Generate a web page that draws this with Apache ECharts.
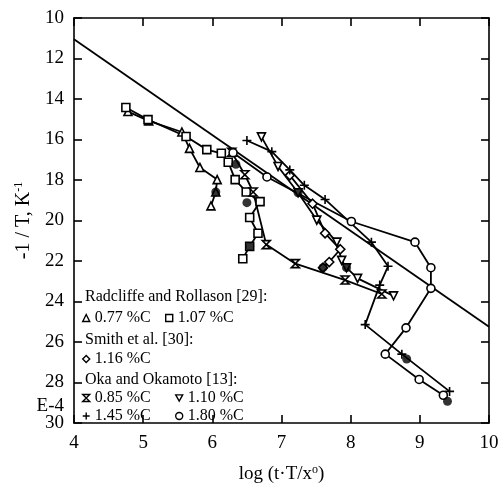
<!DOCTYPE html>
<html><head><meta charset="utf-8">
<script src="https://cdn.jsdelivr.net/npm/echarts@6/dist/echarts.min.js"></script>
<style>html,body{margin:0;padding:0;background:#fff}#c{width:503px;height:489px}</style>
</head><body><div id="c"></div>
<script>
// axis ranges / ticks
const xTicks = [4, 5, 6, 7, 8, 9, 10];
const yTicks = [10, 12, 14, 16, 18, 20, 22, 24, 26, 28, 30];

// reference straight line
const refLine = [[4, 11.05], [10, 25.25]];
// Radcliffe and Rollason [29]
const rr077 = [[4.78,14.62],[5.08,15.08],[5.56,15.63],[5.67,16.44],[5.82,17.38],[6.07,17.98],[6.05,18.59],[5.98,19.28]];
const rr107 = [[4.75,14.42],[5.07,15.02],[5.62,15.85],[5.92,16.5],[6.13,16.68],[6.23,17.12],[6.33,17.98],[6.49,18.59],[6.69,19.07],[6.54,19.85],[6.66,20.63],[6.54,21.28],[6.44,21.89]];
// Smith et al. [30]
const sm116 = [[7.12,17.77],[7.45,19.17],[7.63,20.63],[7.85,21.42],[7.69,22.05],[7.60,22.33]];
// Oka and Okamoto [13]
const ok085 = [[6.28,16.63],[6.47,17.74],[6.59,18.59],[6.78,21.19],[7.20,22.13],[7.92,22.94],[8.45,23.63]];
const ok110 = [[6.71,15.87],[6.95,17.33],[7.24,18.63],[7.51,19.98],[7.80,21.07],[7.87,21.97],[7.94,22.33],[8.10,22.86],[8.62,23.72]];
const ok145 = [[6.5,16.05],[6.86,16.6],[7.12,17.5],[7.33,18.26],[7.63,18.96],[8.30,21.07],[8.54,22.26],[8.42,23.19],[8.21,25.14],[8.74,26.6],[9.43,28.44]];
const ok180 = [[6.3,16.65],[6.79,17.85],[8.01,20.05],[8.93,21.07],[9.16,22.33],[9.16,23.35],[8.80,25.3],[8.50,26.6],[8.99,27.85],[9.34,28.63]];
// filled points
const filledPts = [[6.05,18.59],[6.34,17.22],[6.50,19.12],[6.54,21.28],[7.24,18.63],[7.60,22.33],[7.94,22.33],[8.81,26.84],[9.40,28.93]];

const FONT = 'Liberation Serif';
const SYM = {
  tri: 'triangle',
  sq: 'rect',
  dia: 'diamond',
  hour: 'path://M0,0 L10,0 L0,10 L10,10 Z',
  dtri: 'path://M0,0 L10,0 L5,9 Z',
  plus: 'path://M5,0 L5,10 M0,5 L10,5',
  circ: 'circle'
};

function mkSeries(name, data, sym, size) {
  return {
    name: name, type: 'line', data: data, symbol: sym, symbolSize: size || 8,
    showAllSymbol: true,
    lineStyle: { color: '#000', width: 1.8 },
    itemStyle: { color: '#fff', borderColor: '#000', borderWidth: 1.6 },
    emphasis: { disabled: true }, z: 3
  };
}

const legendRows = [
  { name: '0.77 %C', icon: SYM.tri, left: 82, top: 310 },
  { name: '1.07 %C', icon: SYM.sq, left: 165, top: 310 },
  { name: '1.16 %C', icon: SYM.dia, left: 82, top: 351 },
  { name: '0.85 %C', icon: SYM.hour, left: 82, top: 390 },
  { name: '1.10 %C', icon: SYM.dtri, left: 175, top: 390 },
  { name: '1.45 %C', icon: SYM.plus, left: 82, top: 408 },
  { name: '1.80 %C', icon: SYM.circ, left: 175, top: 408 }
];
const headings = [
  { text: 'Radcliffe and Rollason [29]:', x: 85, y: 297 },
  { text: 'Smith et al. [30]:', x: 85, y: 340 },
  { text: 'Oka and Okamoto [13]:', x: 85, y: 380 }
];

const axisLineStyle = { color: '#000', width: 1.6 };
const tickStyle = { inside: true, length: 8, lineStyle: { color: '#000', width: 1.6 } };
const labelStyle = { color: '#000', fontFamily: FONT, fontSize: 19 };

const option = {
  animation: false,
  backgroundColor: '#fff',
  grid: { left: 74, right: 14, top: 18, bottom: 61 },
  xAxis: [
    { type: 'value', min: xTicks[0], max: xTicks[xTicks.length-1], interval: 1, position: 'bottom',
      axisLine: { lineStyle: axisLineStyle }, axisTick: tickStyle,
      axisLabel: Object.assign({ margin: 11 }, labelStyle), splitLine: { show: false },
      name: 'log (t·T/x{sup|o})', nameLocation: 'middle', nameGap: 41,
      nameTextStyle: { color: '#000', fontFamily: FONT, fontSize: 19,
        rich: { sup: { fontFamily: FONT, fontSize: 12, color: '#000', padding: [0, 0, 9, 0] } } } },
    { type: 'value', min: xTicks[0], max: xTicks[xTicks.length-1], interval: 1, position: 'top',
      axisLine: { lineStyle: axisLineStyle }, axisTick: tickStyle, axisLabel: { show: false }, splitLine: { show: false } }
  ],
  yAxis: [
    { type: 'value', inverse: true, min: yTicks[0], max: yTicks[yTicks.length-1], interval: 2, position: 'left',
      axisLine: { lineStyle: axisLineStyle }, axisTick: tickStyle,
      axisLabel: Object.assign({ margin: 10 }, labelStyle), splitLine: { show: false },
      name: '-1 / T, K{sup|-1}', nameLocation: 'middle', nameGap: 37, nameRotate: 90,
      nameTextStyle: { color: '#000', fontFamily: FONT, fontSize: 20,
        rich: { sup: { fontFamily: FONT, fontSize: 12, color: '#000', padding: [0, 0, 10, 0] } } } },
    { type: 'value', inverse: true, min: yTicks[0], max: yTicks[yTicks.length-1], interval: 2, position: 'right',
      axisLine: { lineStyle: axisLineStyle }, axisTick: tickStyle, axisLabel: { show: false }, splitLine: { show: false } }
  ],
  legend: legendRows.map(r => ({
    data: [r.name], icon: r.icon, left: r.left, top: r.top, padding: 0,
    itemWidth: 7, itemHeight: 7, selectedMode: false,
    itemStyle: { color: '#fff', borderColor: '#000', borderWidth: 1.4 },
    textStyle: { color: '#000', fontFamily: FONT, fontSize: 16 }
  })),
  graphic: headings.map(h => ({
    type: 'text', x: h.x, y: h.y, silent: true,
    style: { text: h.text, fill: '#000', font: '16px "Liberation Serif"', verticalAlign: 'middle' }
  })).concat([{
    type: 'text', x: 64, y: 406, silent: true,
    style: { text: 'E-4', fill: '#000', font: '19px "Liberation Serif"', align: 'right', verticalAlign: 'middle' }
  }]),
  series: [
    { name: 'ref', type: 'line', data: refLine, symbol: 'none', lineStyle: { color: '#000', width: 1.8 }, emphasis: { disabled: true }, z: 2 },
    mkSeries('0.77 %C', rr077, SYM.tri, 8),
    mkSeries('1.07 %C', rr107, SYM.sq, 8),
    mkSeries('1.16 %C', sm116, SYM.dia, 9),
    mkSeries('0.85 %C', ok085, SYM.hour, 8),
    mkSeries('1.10 %C', ok110, SYM.dtri, 8),
    mkSeries('1.45 %C', ok145, SYM.plus, 9),
    mkSeries('1.80 %C', ok180, SYM.circ, 8),
    { name: 'filled', type: 'scatter', data: filledPts, symbol: 'circle', symbolSize: 9,
      itemStyle: { color: '#000' }, emphasis: { disabled: true }, z: 5 }
  ]
};
const chart = echarts.init(document.getElementById('c'));
chart.setOption(option);
</script>
</body></html>
